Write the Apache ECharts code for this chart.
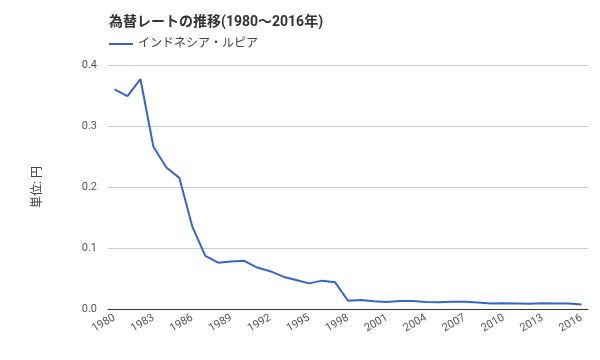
<!DOCTYPE html>
<html><head><meta charset="utf-8">
<script src="https://cdn.jsdelivr.net/npm/echarts@6/dist/echarts.min.js"></script>
<style>html,body{margin:0;padding:0;background:#fff}#c{width:600px;height:360px}</style>
</head><body><div id="c"></div>
<script>
const years = [];
for (let y = 1980; y <= 2016; y++) years.push(String(y));
const rupiah = [0.360,0.349,0.377,0.266,0.232,0.215,0.135,0.087,0.076,0.078,0.079,0.068,0.062,0.053,0.0475,0.042,0.0465,0.044,0.0136,0.0148,0.0126,0.0115,0.013,0.013,0.0115,0.011,0.012,0.012,0.0105,0.009,0.0095,0.009,0.0085,0.0095,0.009,0.009,0.0075];
const yTicks = [0, 0.1, 0.2, 0.3, 0.4];
const font = "Roboto, 'Noto Sans CJK JP', sans-serif";
const chart = echarts.init(document.getElementById('c'));
chart.setOption({
  animation: false,
  textStyle: {fontFamily: font},
  title: {text: '為替レートの推移(1980～2016年)', left: 104, top: 11,
    textStyle: {fontSize: 14, fontWeight: 'bold', color: '#333', fontFamily: font}},
  legend: {left: 104, top: 33, itemWidth: 24, itemHeight: 2, icon: 'rect', itemGap: 8,
    textStyle: {fontSize: 12, color: '#444', fontFamily: font},
    data: ['インドネシア・ルピア']},
  grid: {left: 108, right: 12, top: 65, bottom: 51},
  xAxis: {type: 'category', data: years, boundaryGap: true,
    axisLine: {lineStyle: {color: '#333'}}, axisTick: {show: false},
    axisLabel: {interval: 2, rotate: 30, fontSize: 11, color: '#555', margin: 8}},
  yAxis: {type: 'value', min: 0, max: 0.4, interval: 0.1,
    name: '単位: 円', nameLocation: 'middle', nameGap: 64, nameRotate: 90,
    nameTextStyle: {fontSize: 12, color: '#444'},
    axisLine: {show: false}, axisTick: {show: false},
    splitLine: {lineStyle: {color: '#ccc'}},
    axisLabel: {fontSize: 11, color: '#555', margin: 11, formatter: v => v.toFixed(1)}},
  series: [{name: 'インドネシア・ルピア', type: 'line', data: rupiah, showSymbol: false,
    symbol: 'none', lineStyle: {color: '#3366cc', width: 2}, itemStyle: {color: '#3366cc'}}]
});
</script></body></html>
